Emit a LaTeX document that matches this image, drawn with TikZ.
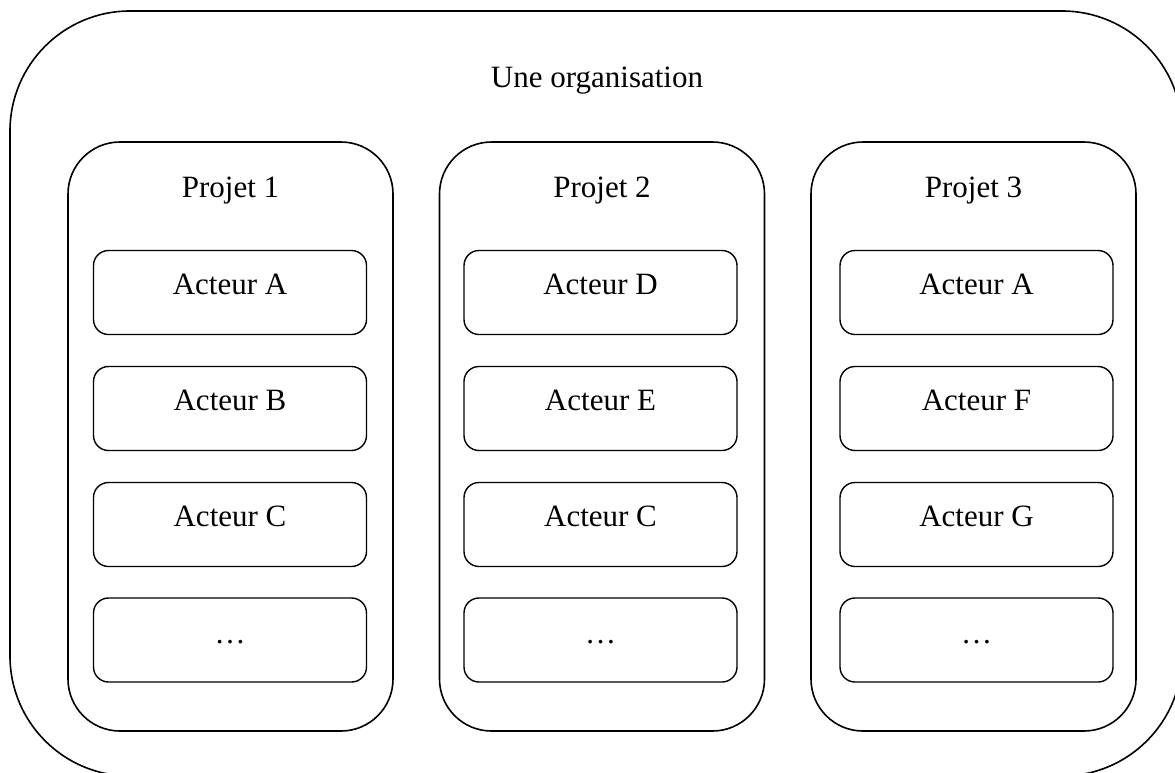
\documentclass[tikz,border=0pt]{standalone}
\usepackage{fontspec}
\setmainfont{Liberation Serif}
\begin{document}
\begin{tikzpicture}[x=1pt,y=-1pt,
  every node/.style={font=\fontsize{31}{36}\selectfont},
  outerbox/.style={draw,line width=1.6pt,rounded corners=120pt,minimum width=1172pt,minimum height=765pt,inner sep=0pt},
  projbox/.style={draw,line width=1.6pt,rounded corners=52pt,minimum width=325pt,minimum height=589pt,inner sep=0pt},
  actbox/.style={draw,line width=1.4pt,rounded corners=15pt,minimum width=273pt,minimum height=84pt,inner sep=0pt},
  lbl/.style={anchor=base,inner sep=0pt}]
\useasboundingbox (0,0) rectangle (1175,772);
\clip (0,0) rectangle (1175,772);
\node[outerbox] (org) at (596,393.5) {};
\node[lbl] (orgt) at (597,87) {Une organisation};
% projects
\foreach \i/\x in {1/230.5,2/602,3/973.5}{
  \node[projbox] (p\i) at (\x,436.5) {};
  \node[lbl] (p\i t) at (\x,197) {Projet \i};
}
% actors
\foreach \i/\x in {1/230,2/600.5,3/976.5}{
  \foreach \r/\y in {1/292.5,2/408.5,3/524.5,4/640}{
    \node[actbox] (a\i\r) at (\x,\y) {};
  }
}
\node[lbl] (t11) at (230,294) {Acteur A};
\node[lbl] (t12) at (230,410) {Acteur B};
\node[lbl] (t13) at (230,526) {Acteur C};
\node[lbl] (t14) at (230,643) {…};
\node[lbl] (t21) at (600.5,294) {Acteur D};
\node[lbl] (t22) at (600.5,410) {Acteur E};
\node[lbl] (t23) at (600.5,526) {Acteur C};
\node[lbl] (t24) at (600.5,643) {…};
\node[lbl] (t31) at (976.5,294) {Acteur A};
\node[lbl] (t32) at (976.5,410) {Acteur F};
\node[lbl] (t33) at (976.5,526) {Acteur G};
\node[lbl] (t34) at (976.5,643) {…};
\end{tikzpicture}
\end{document}
